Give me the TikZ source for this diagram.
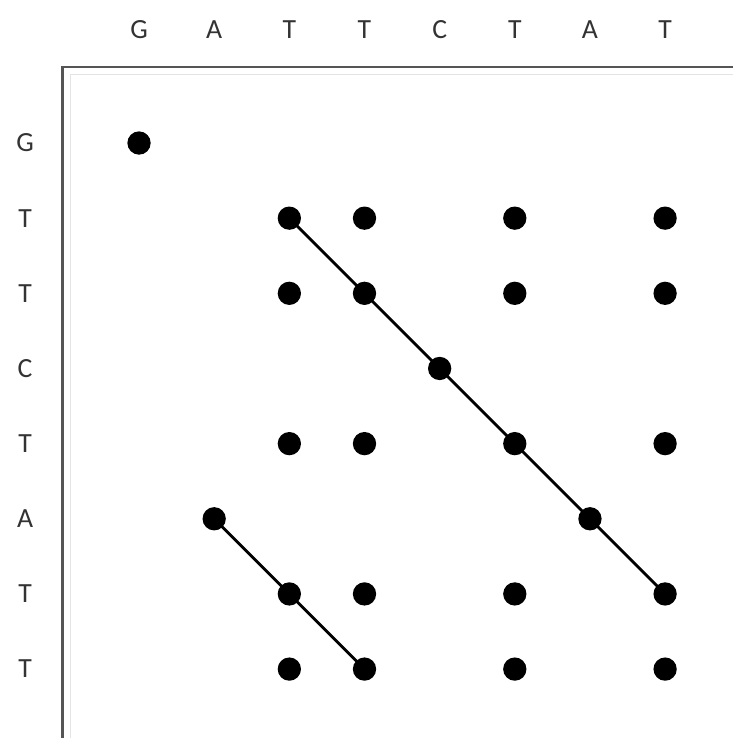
\documentclass[tikz,border=0pt]{standalone}
\usepackage{fontspec}
\setmainfont{Carlito}
\usepackage{tikz}
\usetikzlibrary{positioning}
\definecolor{framegray}{HTML}{555555}
\definecolor{innergray}{HTML}{E4E4E4}

\begin{document}
\begin{tikzpicture}[
  seq/.style={font=\fontsize{10.5}{12}\selectfont, text=black!80, inner sep=0pt},
  hit/.style={circle, fill=black, minimum size=0.31cm, inner sep=0pt},
  diag/.style={line width=1.1pt, black},
  frame/.style={line width=1.1pt, framegray}
]
\useasboundingbox (0,0) rectangle (9.754,-9.820);

% frame of the plot
\draw[innergray, line width=0.5pt] (0.94,-9.820) |- (9.754,-0.99);
\draw[frame] (0.832,-9.820) |- (9.754,-0.892);

% first sequence (columns)
\node[seq] (c1) at (1.850,-0.40) {G};
\node[seq] (c2) at (2.850,-0.40) {A};
\node[seq] (c3) at (3.850,-0.40) {T};
\node[seq] (c4) at (4.850,-0.40) {T};
\node[seq] (c5) at (5.850,-0.40) {C};
\node[seq] (c6) at (6.850,-0.40) {T};
\node[seq] (c7) at (7.850,-0.40) {A};
\node[seq] (c8) at (8.850,-0.40) {T};

% second sequence (rows)
\node[seq] (r1) at (0.333,-1.903) {G};
\node[seq] (r2) at (0.333,-2.903) {T};
\node[seq] (r3) at (0.333,-3.903) {T};
\node[seq] (r4) at (0.333,-4.903) {C};
\node[seq] (r5) at (0.333,-5.903) {T};
\node[seq] (r6) at (0.333,-6.903) {A};
\node[seq] (r7) at (0.333,-7.903) {T};
\node[seq] (r8) at (0.333,-8.903) {T};

% matches
\node[hit] (d11) at (1.850,-1.903) {};
\node[hit] (d23) at (3.850,-2.903) {};
\node[hit] (d24) at (4.850,-2.903) {};
\node[hit] (d26) at (6.850,-2.903) {};
\node[hit] (d28) at (8.850,-2.903) {};
\node[hit] (d33) at (3.850,-3.903) {};
\node[hit] (d34) at (4.850,-3.903) {};
\node[hit] (d36) at (6.850,-3.903) {};
\node[hit] (d38) at (8.850,-3.903) {};
\node[hit] (d45) at (5.850,-4.903) {};
\node[hit] (d53) at (3.850,-5.903) {};
\node[hit] (d54) at (4.850,-5.903) {};
\node[hit] (d56) at (6.850,-5.903) {};
\node[hit] (d58) at (8.850,-5.903) {};
\node[hit] (d62) at (2.850,-6.903) {};
\node[hit] (d67) at (7.850,-6.903) {};
\node[hit] (d73) at (3.850,-7.903) {};
\node[hit] (d74) at (4.850,-7.903) {};
\node[hit] (d76) at (6.850,-7.903) {};
\node[hit] (d78) at (8.850,-7.903) {};
\node[hit] (d83) at (3.850,-8.903) {};
\node[hit] (d84) at (4.850,-8.903) {};
\node[hit] (d86) at (6.850,-8.903) {};
\node[hit] (d88) at (8.850,-8.903) {};

% diagonals
\draw[diag] (d23.center) -- (d78.center);
\draw[diag] (d62.center) -- (d84.center);
\end{tikzpicture}
\end{document}
